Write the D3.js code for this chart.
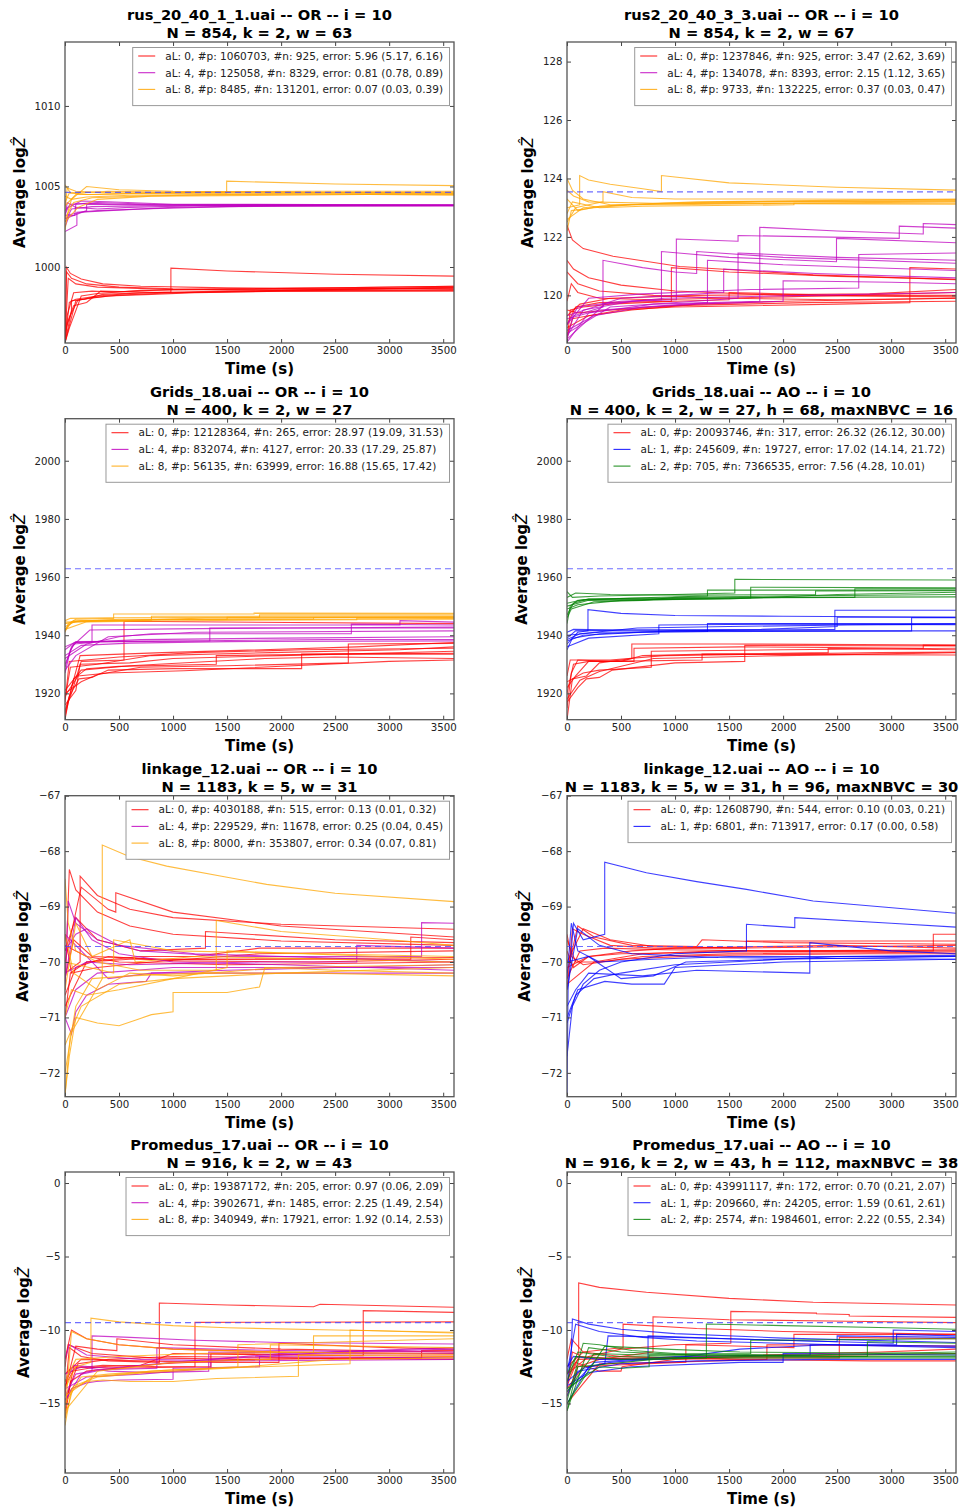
<!DOCTYPE html>
<html><head><meta charset="utf-8">
<script src="https://cdn.jsdelivr.net/npm/d3@7"></script>
<style>body{margin:0;background:#fff}svg{display:block}text{font-family:"DejaVu Sans",sans-serif}</style>
</head><body><svg id="c" width="961" height="1509"></svg>
<script>
// ---------- DATA (runs are flat [t, v, t, v, ...]) ----------
const xTicks = [0,500,1000,1500,2000,2500,3000,3500];
const xDomain = [0,3600];

const titles1 = ["rus_20_40_1_1.uai -- OR -- i = 10","rus2_20_40_3_3.uai -- OR -- i = 10","Grids_18.uai -- OR -- i = 10","Grids_18.uai -- AO -- i = 10","linkage_12.uai -- OR -- i = 10","linkage_12.uai -- AO -- i = 10","Promedus_17.uai -- OR -- i = 10","Promedus_17.uai -- AO -- i = 10"];
const titles2 = ["N = 854, k = 2, w = 63","N = 854, k = 2, w = 67","N = 400, k = 2, w = 27","N = 400, k = 2, w = 27, h = 68, maxNBVC = 16","N = 1183, k = 5, w = 31","N = 1183, k = 5, w = 31, h = 96, maxNBVC = 30","N = 916, k = 2, w = 43","N = 916, k = 2, w = 43, h = 112, maxNBVC = 38"];
const yDomains = [[995.28,1013.97],[118.37,128.67],[1910.95,2014.46],[1910.95,2014.46],[-72.43,-67],[-72.43,-67],[-19.73,0.75],[-19.73,0.75]];
const yTicks = [[1000,1005,1010],[120,122,124,126,128],[1920,1940,1960,1980,2000],[1920,1940,1960,1980,2000],[-72,-71,-70,-69,-68,-67],[-72,-71,-70,-69,-68,-67],[-15,-10,-5,0],[-15,-10,-5,0]];
const refValues = [1004.63,123.54,1962.86,1962.86,-69.72,-69.72,-9.5,-9.5];
const legendLabels = [
 ["aL: 0, #p: 1060703, #n: 925, error: 5.96 (5.17, 6.16)","aL: 4, #p: 125058, #n: 8329, error: 0.81 (0.78, 0.89)","aL: 8, #p: 8485, #n: 131201, error: 0.07 (0.03, 0.39)"],
 ["aL: 0, #p: 1237846, #n: 925, error: 3.47 (2.62, 3.69)","aL: 4, #p: 134078, #n: 8393, error: 2.15 (1.12, 3.65)","aL: 8, #p: 9733, #n: 132225, error: 0.37 (0.03, 0.47)"],
 ["aL: 0, #p: 12128364, #n: 265, error: 28.97 (19.09, 31.53)","aL: 4, #p: 832074, #n: 4127, error: 20.33 (17.29, 25.87)","aL: 8, #p: 56135, #n: 63999, error: 16.88 (15.65, 17.42)"],
 ["aL: 0, #p: 20093746, #n: 317, error: 26.32 (26.12, 30.00)","aL: 1, #p: 245609, #n: 19727, error: 17.02 (14.14, 21.72)","aL: 2, #p: 705, #n: 7366535, error: 7.56 (4.28, 10.01)"],
 ["aL: 0, #p: 4030188, #n: 515, error: 0.13 (0.01, 0.32)","aL: 4, #p: 229529, #n: 11678, error: 0.25 (0.04, 0.45)","aL: 8, #p: 8000, #n: 353807, error: 0.34 (0.07, 0.81)"],
 ["aL: 0, #p: 12608790, #n: 544, error: 0.10 (0.03, 0.21)","aL: 1, #p: 6801, #n: 713917, error: 0.17 (0.00, 0.58)"],
 ["aL: 0, #p: 19387172, #n: 205, error: 0.97 (0.06, 2.09)","aL: 4, #p: 3902671, #n: 1485, error: 2.25 (1.49, 2.54)","aL: 8, #p: 340949, #n: 17921, error: 1.92 (0.14, 2.53)"],
 ["aL: 0, #p: 43991117, #n: 172, error: 0.70 (0.21, 2.07)","aL: 1, #p: 209660, #n: 24205, error: 1.59 (0.61, 2.61)","aL: 2, #p: 2574, #n: 1984601, error: 2.22 (0.55, 2.34)"]
];
const colorOR = ["#ff0000","#bf00bf","#ffa500"];
const colorAO = ["#ff0000","#0000ff","#008000"];

// Panel 1: rus_20_40_1_1 OR
const rus1_aL0 = [
 [0,995.3,12,1000.0,50,999.6,150,999.25,350,998.95,700,998.8,1500,998.7,3600,998.65],
 [0,995.3,15,999.7,60,999.3,200,998.95,500,998.75,1000,998.65,2500,998.6,3600,998.7],
 [0,995.5,30,999.3,100,998.95,300,998.75,1000,998.6,2000,998.55,3600,998.7],
 [0,995.3,40,997.8,100,998.0,300,998.2,600,998.35,980,998.45,980,999.93,1500,999.75,2500,999.55,3600,999.43],
 [0,995.3,60,997.3,60,997.9,180,998.0,350,998.3,700,998.4,1500,998.5,3600,998.6],
 [0,995.5,20,996.5,80,997.6,200,997.8,330,998.5,1000,998.4,2000,998.55,3600,998.75],
 [0,995.3,100,997.9,250,998.1,500,998.25,1000,998.4,2000,998.5,3600,998.55],
 [0,996.0,50,997.0,120,997.95,400,998.2,800,998.3,1200,998.4,2000,998.5,3600,998.5],
 [0,995.3,40,996.2,150,998.2,300,998.35,700,998.55,1300,998.6,3600,998.8],
 [0,995.3,20,997.0,80,998.4,250,998.5,450,998.45,1000,998.6,2500,998.7,3600,998.8]
];
const rus1_aL4 = [
 [0,1003.0,20,1004.0,100,1003.7,300,1003.6,600,1003.7,1200,1003.8,3600,1003.85],
 [0,1002.5,40,1003.2,90,1003.2,100,1003.9,300,1004.0,800,1003.9,3600,1003.85],
 [0,1002.2,110,1002.6,110,1003.4,300,1003.5,700,1003.6,1500,1003.75,3600,1003.8],
 [0,1003.5,50,1003.9,200,1003.95,500,1003.9,1000,1003.85,3600,1003.85],
 [0,1003.2,150,1003.4,400,1003.5,1000,1003.7,2000,1003.8,3600,1003.8],
 [0,1002.8,60,1003.6,250,1003.75,800,1003.8,3600,1003.82],
 [0,1003.0,200,1003.5,200,1003.9,600,1003.85,3600,1003.8],
 [0,1003.3,30,1003.7,150,1004.1,400,1004.05,1000,1003.9,3600,1003.85]
];
const rus1_aL8 = [
 [0,1005.1,50,1004.6,200,1004.5,600,1004.55,1496,1004.6,1496,1005.33,2500,1005.15,3600,1005.05],
 [0,1002.3,30,1003.5,60,1004.2,200,1005.0,500,1004.8,1000,1004.7,2000,1004.65,3600,1004.6],
 [0,1003.0,80,1004.0,250,1004.3,700,1004.4,1500,1004.5,3600,1004.55],
 [0,1004.0,40,1004.6,150,1004.6,400,1004.7,1500,1004.6,3600,1004.55],
 [0,1002.8,120,1003.7,300,1004.2,800,1004.4,2800,1004.5,3600,1004.5],
 [0,1003.5,20,1004.9,100,1004.7,400,1004.6,1200,1004.6,3600,1004.65],
 [0,1004.4,60,1004.2,200,1004.35,600,1004.45,2000,1004.55,3600,1004.45],
 [0,1003.8,100,1004.5,300,1004.5,1000,1004.65,2300,1004.7,3600,1004.7]
];

// Panel 2: rus2_20_40_3_3 OR
const rus2_aL0 = [
 [0,122.4,50,121.9,150,121.6,426,121.34,1043,120.99,2278,120.7,3600,120.54],
 [0,121.2,60,120.9,200,120.6,500,120.35,1000,120.15,2000,120.0,3600,119.95],
 [0,120.8,100,120.4,300,120.15,800,120.0,1500,119.9,2500,119.85,3600,119.9],
 [0,118.4,30,119.5,150,119.6,400,119.7,1000,119.8,1500,119.85,1500,120.1,2500,120.0,3600,120.0],
 [0,118.6,50,119.2,200,119.3,600,119.5,1200,119.7,2000,119.8,3600,119.9],
 [0,119.0,80,119.6,300,119.75,966,119.8,966,120.95,1500,120.8,2500,120.65,3600,120.55],
 [0,119.5,100,119.4,400,119.5,1000,119.65,2200,119.75,3600,119.8],
 [0,118.9,200,119.3,500,119.5,1000,119.6,2500,119.7,3173,119.75,3173,120.95,3600,120.9],
 [0,119.8,40,120.4,100,120.1,300,119.9,800,119.85,2000,119.95,3600,120.1],
 [0,119.3,120,119.7,400,119.9,1200,120.0,2800,120.05,3600,120.2]
];
const rus2_aL4 = [
 [0,118.5,60,119.3,333,119.6,333,121.2,700,120.95,1000,120.8,1200,120.75,1200,121.5,2000,121.3,3600,121.1],
 [0,118.6,150,119.5,600,119.8,1012,119.85,1012,121.93,1583,121.85,1583,122.05,3075,121.95,3075,122.37,3600,122.3],
 [0,118.4,200,119.4,800,119.7,1784,119.8,1784,122.33,2500,122.2,3297,122.1,3297,122.46,3600,122.42],
 [0,119.0,100,119.6,500,119.8,874,119.85,874,121.5,1500,121.3,2494,121.15,2494,121.95,3600,121.8],
 [0,118.8,250,119.3,700,119.6,1300,119.75,1300,121.2,2000,121.05,3600,120.85],
 [0,119.2,300,119.5,1200,119.7,2000,119.8,2000,120.5,3000,120.45,3600,120.4],
 [0,118.7,400,119.6,1583,119.9,1583,121.45,2500,121.3,3600,121.2],
 [0,119.3,500,119.9,1000,120.0,1450,120.1,1450,120.9,2300,120.75,3600,120.6],
 [0,118.5,350,119.7,900,119.9,2200,120.0,3600,120.1],
 [0,119.0,200,119.9,700,120.05,1700,120.2,2700,120.25,2700,121.4,3600,121.45]
];
const rus2_aL8 = [
 [0,124.0,50,123.6,150,123.3,400,123.1,1000,123.1,2000,123.15,3600,123.2],
 [0,123.0,117,123.1,117,124.1,200,123.95,400,123.8,700,123.65,874,123.55,874,124.1,1500,123.85,2500,123.7,3600,123.6],
 [0,122.5,80,123.0,200,123.1,333,123.2,333,123.55,600,123.35,1000,123.3,2000,123.3,3600,123.28],
 [0,122.8,50,123.2,300,123.0,700,123.05,2100,123.1,2100,123.15,3600,123.15],
 [0,123.3,100,122.9,300,123.05,900,123.15,1500,123.2,3600,123.25],
 [0,122.6,150,123.0,500,123.1,1200,123.2,2500,123.25,3600,123.3],
 [0,123.6,60,123.4,200,123.2,800,123.15,3600,123.12],
 [0,122.2,40,122.9,250,123.0,600,123.1,1800,123.2,3600,123.22]
];

// Panel 3: Grids_18 OR
const gridsOR_aL0 = [
 [0,1911,30,1917,60,1920,150,1931,546,1931.5,546,1944.8,3600,1944.0],
 [0,1914,40,1919,130,1925,250,1925.5,400,1928,1000,1928.5,2190,1928.5,2190,1933.5,3600,1933.8],
 [0,1916,100,1921,140,1930,600,1930.5,1000,1932,2000,1933,3600,1934.5],
 [0,1920,150,1924,300,1926.5,700,1929,1500,1929.5,2622,1930.5,2622,1937,3600,1937.2],
 [0,1918,50,1929,300,1930,800,1933,1900,1934,3100,1935,3600,1936],
 [0,1912,80,1925,200,1928.5,500,1929.3,1400,1930,1400,1933,2500,1933.5,3600,1933.5],
 [0,1917,40,1931,500,1932.5,1200,1934,2200,1935,3600,1935.5],
 [0,1919,120,1926,400,1927,1100,1927.8,3000,1931,3600,1931.5],
 [0,1913,60,1922,140,1933,900,1934,2700,1936,3600,1937.5],
 [0,1921,150,1928,600,1929.5,1850,1932,2500,1932.5,3600,1932]
];
const gridsOR_aL4 = [
 [0,1927,50,1935,100,1937.5,500,1937.8,1340,1938,1340,1942.5,3600,1942.5],
 [0,1930,80,1937,250,1937.5,250,1943.5,3100,1943.5,3100,1945.0,3600,1944.5],
 [0,1932,200,1937,500,1939.5,800,1940.5,2650,1940.5,2650,1943.8,3600,1943.5],
 [0,1935,100,1937.8,1000,1938,2400,1938.5,3600,1938.5],
 [0,1929,60,1936,230,1941.8,1000,1942.2,2000,1942.5,3600,1942.8],
 [0,1933,150,1936.5,600,1937.3,1500,1937.8,3600,1938.0],
 [0,1928,100,1933,400,1939.5,1200,1941,3600,1941.5],
 [0,1936,90,1937.5,700,1938.5,2000,1939,3600,1939.5]
];
const gridsOR_aL8 = [
 [0,1941,30,1944,100,1945.5,450,1945.8,450,1947.3,1750,1947.3,1750,1947.6,3600,1947.5],
 [0,1942,60,1944.5,300,1944.8,800,1945.2,800,1946.5,3600,1946.5],
 [0,1944,150,1945.0,700,1945.3,1500,1945.5,1500,1946.2,3600,1946.2],
 [0,1943,100,1944.8,500,1945.5,2300,1945.6,2300,1946.0,3600,1946.0],
 [0,1945,50,1945.8,400,1946.0,1800,1946.2,1800,1947.0,3600,1947.0],
 [0,1942,200,1944.6,1000,1945.0,2700,1945.3,2700,1945.9,3600,1945.8],
 [0,1944.5,350,1944.9,1000,1945.4,3600,1945.5],
 [0,1941.5,40,1943.5,80,1945,700,1945.2,1300,1945.9,3600,1946.3]
];

// Panel 4: Grids_18 AO
const gridsAO_aL0 = [
 [0,1911,50,1925,180,1926,300,1930.5,600,1932,600,1937,1500,1937,3600,1936.6],
 [0,1917,100,1922,180,1925,300,1925.5,420,1928,1000,1930.5,1645,1931,1645,1936.5,3600,1936.3],
 [0,1920,60,1930,200,1931,500,1931,700,1933,1300,1933.5,2417,1934,2417,1935.5,3600,1935],
 [0,1924,150,1927,300,1928,780,1929,780,1934.5,2000,1935,3600,1935.5],
 [0,1915,40,1927,100,1931.5,400,1931,1250,1931.5,1250,1933.5,3600,1933.2],
 [0,1922,80,1926,200,1931,620,1931,620,1935.5,1600,1936,3297,1935.5,3297,1936.6,3600,1936.5],
 [0,1918,120,1924.5,300,1927.5,800,1932,2000,1933,3600,1934],
 [0,1926,30,1931.5,400,1931.5,900,1933,2900,1934,3600,1934.2]
];
const gridsAO_aL1 = [
 [0,1937,100,1941,194,1941.5,194,1948.8,500,1947.5,1000,1946.8,2000,1946.5,3600,1946.2],
 [0,1935,50,1939,300,1940.5,1000,1941.5,2479,1942,2479,1948.6,3600,1948.6],
 [0,1938,150,1940,700,1941,1300,1941.3,1300,1944,3600,1944],
 [0,1939,80,1941.5,600,1941.8,1800,1942,2500,1943,2500,1946.2,3600,1946.2],
 [0,1936,200,1939,850,1940.5,850,1943.5,2000,1943.8,3600,1943.6],
 [0,1940,300,1941,800,1941.2,3189,1941.5,3189,1946,3600,1946],
 [0,1938.5,120,1940.5,650,1942.5,1500,1943,2600,1943.5,3600,1943.8],
 [0,1941,60,1942,500,1941.8,1600,1941.5,3600,1941.5]
];
const gridsAO_aL2 = [
 [0,1955,50,1953,300,1953.5,1000,1954,1553,1954.5,1553,1959.2,3600,1959],
 [0,1944,30,1950,100,1952,600,1952.8,1300,1953.5,1300,1955.5,3600,1955.5],
 [0,1947,60,1951,200,1952.5,900,1952.8,2664,1953,2664,1956,3600,1956],
 [0,1949,100,1950.5,500,1952,1700,1952.8,1700,1956.5,3600,1956.3],
 [0,1951,150,1952.3,800,1952.5,2000,1953,3600,1953.2],
 [0,1953,80,1954.5,400,1954,1200,1953.8,2300,1954,2300,1955.2,3600,1955.3],
 [0,1946,40,1949,250,1951.5,700,1952,1000,1953,2000,1953.5,3600,1954],
 [0,1950,200,1952,1500,1952.5,2500,1954,3600,1954.8]
];

// Panel 5: linkage_12 OR
const linkOR_aL0 = [
 [0,-70.5,40,-68.33,100,-68.7,300,-69.1,600,-69.35,1000,-69.5,2000,-69.62,3600,-69.7],
 [0,-70.2,140,-70.0,140,-68.45,300,-68.8,600,-69.05,1000,-69.2,2000,-69.32,3600,-69.41],
 [0,-70.0,150,-68.65,400,-69.05,470,-69.1,470,-68.75,1000,-69.1,2000,-69.35,3600,-69.55],
 [0,-69.8,100,-69.2,300,-69.6,700,-69.8,1300,-69.75,1300,-69.45,2500,-69.6,3600,-69.65],
 [0,-71.0,50,-70.2,200,-70.0,600,-69.95,1500,-69.95,3600,-69.92],
 [0,-70.6,100,-70.1,400,-69.9,1000,-69.98,2300,-70.0,3600,-69.95],
 [0,-69.5,60,-70.2,300,-70.1,800,-70.0,1800,-69.85,3600,-69.8],
 [0,-70.8,200,-70.0,700,-69.9,1200,-69.9,1800,-69.75,3600,-69.75],
 [0,-69.7,200,-69.9,500,-70.0,1500,-70.05,3600,-70.0],
 [0,-70.3,80,-69.6,250,-69.9,900,-69.95,3200,-69.95,3200,-69.55,3600,-69.6]
];
const linkOR_aL4 = [
 [0,-70.5,30,-68.9,100,-69.3,300,-69.6,700,-69.8,1500,-69.9,3300,-69.9,3300,-69.29,3600,-69.3],
 [0,-71.0,60,-71.3,100,-70.9,200,-70.6,400,-70.4,750,-70.35,800,-70.2,1500,-70.15,2500,-70.1,3600,-70.05],
 [0,-70.3,100,-69.2,250,-69.6,500,-69.85,1000,-70.0,2000,-70.05,3600,-70.15],
 [0,-69.5,150,-69.8,400,-70.3,800,-70.2,2000,-70.2,3600,-70.2],
 [0,-70.2,200,-70.0,600,-70.05,1800,-70.0,2700,-70.0,2700,-69.7,3600,-69.75],
 [0,-71.0,100,-70.5,300,-70.2,1000,-70.1,3600,-70.1],
 [0,-69.8,100,-69.5,200,-69.4,500,-69.7,1200,-69.85,3600,-70.0]
];
const linkOR_aL8 = [
 [0,-72.4,50,-71.3,200,-70.8,345,-70.3,345,-67.89,600,-68.1,941,-68.27,1500,-68.47,1866,-68.6,2500,-68.76,3600,-68.91],
 [0,-72.4,40,-71.7,100,-71.0,300,-71.1,500,-71.15,650,-71.05,800,-70.95,1000,-70.9,1000,-70.55,1500,-70.55,1800,-70.45,1850,-70.1,2500,-70.15,3600,-70.2],
 [0,-68.5,30,-69.3,100,-69.8,300,-70.0,700,-70.15,1400,-70.15,1400,-69.25,2000,-69.45,3000,-69.6,3600,-69.7],
 [0,-71.0,60,-70.5,200,-70.6,500,-70.5,1000,-70.3,2000,-70.2,3600,-70.1],
 [0,-72.0,100,-70.8,250,-70.3,600,-70.25,1200,-70.2,2300,-70.2,3600,-70.25],
 [0,-70.5,100,-69.3,250,-69.9,600,-69.6,650,-70.0,1200,-69.9,2500,-69.95,3600,-70.0],
 [0,-71.5,150,-70.8,500,-70.4,1000,-70.3,1500,-70.1,1500,-69.8,3600,-69.95],
 [0,-69.5,80,-70.2,300,-70.5,600,-70.2,1000,-70.25,2000,-70.1,3600,-70.05],
 [0,-70.0,450,-70.2,450,-69.6,1000,-69.8,3600,-69.9]
];

// Panel 6: linkage_12 AO
const linkAO_aL0 = [
 [0,-70.5,50,-69.4,150,-69.5,400,-69.7,800,-69.75,1500,-69.75,3600,-69.7],
 [0,-70.2,100,-69.35,250,-69.55,600,-69.7,1200,-69.72,1250,-69.6,2000,-69.65,3600,-69.68],
 [0,-69.8,60,-70.1,200,-69.9,500,-69.85,1500,-69.82,3390,-69.8,3390,-69.5,3600,-69.5],
 [0,-70.0,150,-69.4,400,-69.6,800,-69.72,1660,-69.75,1660,-69.62,3600,-69.62],
 [0,-69.6,80,-70.0,300,-70.0,700,-69.9,1500,-69.85,3600,-69.82],
 [0,-70.3,120,-69.8,350,-69.75,900,-69.78,2000,-69.8,3600,-69.78],
 [0,-70.1,200,-69.9,600,-69.8,1000,-69.75,2500,-69.7,3600,-69.75],
 [0,-69.5,40,-69.9,150,-70.05,500,-69.95,1300,-69.88,2800,-69.85,3600,-69.85],
 [0,-70.4,250,-70.0,700,-69.85,1400,-69.8,3600,-69.8]
];
const linkAO_aL1 = [
 [0,-72.4,10,-70.5,60,-69.3,150,-69.6,349,-69.5,349,-68.2,735,-68.39,1200,-68.55,1661,-68.69,2278,-68.9,3600,-69.12],
 [0,-71.7,50,-70.8,150,-70.4,300,-70.15,500,-70.0,1000,-69.85,1661,-69.8,1661,-69.32,2108,-69.38,2108,-69.2,3000,-69.3,3600,-69.37],
 [0,-71.0,100,-70.5,350,-70.35,600,-70.4,900,-70.4,1000,-70.1,1500,-70.05,2000,-70.0,3600,-69.95],
 [0,-70.8,80,-70.5,200,-70.2,700,-70.25,1200,-70.15,2247,-70.2,2247,-69.65,3000,-69.8,3600,-69.85],
 [0,-70.3,40,-69.3,100,-69.8,300,-70.0,800,-69.95,1500,-69.9,3600,-69.9],
 [0,-71.1,80,-70.6,250,-70.3,500,-70.2,1000,-70.05,2500,-69.9,3600,-69.88],
 [0,-70.5,100,-69.4,300,-69.7,600,-69.85,1400,-69.92,3600,-69.95],
 [0,-70.0,200,-69.9,500,-70.3,800,-70.25,1100,-70.0,2000,-69.95,3600,-69.9]
];

// Panel 7: Promedus_17 OR
const promOR_aL0 = [
 [0,-14.5,40,-11.2,150,-11.8,400,-12.1,873,-12.2,873,-8.16,1500,-8.3,2300,-8.42,2360,-8.25,3600,-8.45],
 [0,-13.5,60,-12.8,300,-12.5,700,-12.4,1000,-11.6,2000,-11.7,2760,-11.75,2760,-8.68,3600,-8.8],
 [0,-15.5,80,-12.5,500,-12.6,1203,-12.5,1203,-9.48,3600,-9.45],
 [0,-12,60,-10.0,200,-10.6,500,-11.0,1000,-11.3,2000,-11.5,3600,-11.6],
 [0,-14,100,-11.1,300,-11.3,480,-11.4,480,-10.6,1000,-11.0,2000,-11.3,3600,-11.5],
 [0,-13,150,-12.0,700,-12.1,1400,-12.2,1980,-12.2,1980,-10.9,3000,-11.2,3600,-11.3],
 [0,-16,50,-13.5,200,-12.8,900,-12.3,1700,-12.0,3600,-11.8],
 [0,-14.8,120,-12.3,400,-12.0,1000,-11.8,2300,-11.9,3600,-12.0],
 [0,-12.5,30,-11.0,250,-11.6,800,-11.9,1600,-12.0,3300,-11.9,3300,-11.4,3600,-11.4],
 [0,-13.8,90,-12.6,350,-12.4,900,-12.5,1350,-12.5,1350,-11.6,2400,-11.7,3600,-11.7]
];
const promOR_aL4 = [
 [0,-14.5,100,-13.0,250,-12.8,250,-10.4,600,-10.5,1200,-10.7,2000,-10.85,3600,-10.95],
 [0,-15,60,-14,200,-13.6,290,-13.5,500,-13.4,1000,-13.35,1000,-12.6,1800,-12.5,1800,-11.8,3600,-11.9],
 [0,-13,150,-12.5,400,-12.8,800,-12.9,1330,-12.8,1330,-11.5,2500,-11.6,3600,-11.6],
 [0,-12,40,-11.0,200,-11.7,700,-12.0,1500,-12.1,3600,-12.0],
 [0,-14,200,-13.2,700,-13.0,1350,-12.6,1350,-12.0,2500,-11.5,3600,-11.3],
 [0,-13.5,80,-12.4,400,-12.6,1000,-12.2,2000,-11.6,3600,-11.2],
 [0,-14.8,150,-13.0,350,-12.7,850,-12.6,850,-11.2,2000,-11.4,3600,-11.5]
];
const promOR_aL8 = [
 [0,-14,100,-12.5,240,-12.2,240,-9.2,500,-9.45,1000,-9.7,1500,-9.85,2500,-10.0,3600,-10.15],
 [0,-16.5,60,-14,200,-13.5,350,-13.4,600,-13.5,1000,-13.5,1400,-13.3,2160,-13.15,2160,-11.7,3600,-11.8],
 [0,-15.8,60,-10.1,200,-10.6,500,-11.0,1000,-11.3,2000,-11.5,3600,-11.65],
 [0,-15,150,-13.2,400,-13.0,1000,-12.7,2638,-12.3,2638,-10.0,3600,-10.2],
 [0,-14.5,250,-13.2,800,-12.8,1600,-12.5,1600,-11.0,3600,-10.6],
 [0,-13.5,100,-12.0,500,-11.8,1200,-11.6,2300,-11.5,2300,-10.4,3600,-10.4],
 [0,-15.5,300,-12.8,1000,-12.2,1900,-12.0,1900,-11.0,3600,-11.2],
 [0,-16,80,-13.8,300,-13.2,750,-12.9,1500,-12.6,2500,-12.0,3600,-11.9]
];

// Panel 8: Promedus_17 AO
const promAO_aL0 = [
 [0,-14,50,-11.5,108,-11.7,108,-6.8,300,-7.1,735,-7.43,1500,-7.85,2278,-8.11,3600,-8.3],
 [0,-13,200,-11.8,500,-11.3,1000,-11.0,1516,-10.9,1516,-8.73,2309,-8.85,2309,-8.9,2612,-8.95,2612,-9.05,3600,-9.14],
 [0,-14.5,100,-12.5,300,-12.0,796,-11.5,796,-9.1,1500,-9.3,2600,-9.4,3600,-9.5],
 [0,-12.5,150,-11.5,519,-11.2,519,-9.6,1200,-9.9,2000,-10.1,3600,-10.3],
 [0,-13.5,80,-12.2,300,-12.8,500,-12.8,510,-12.5,1000,-12.0,1600,-11.9,2520,-11.9,2520,-10.5,3600,-10.6],
 [0,-12,40,-10.6,150,-11.5,500,-11.8,1500,-12.0,2800,-12.1,3600,-12.1],
 [0,-14,150,-12.5,400,-12.4,1100,-12.2,1100,-11.0,2100,-11.2,2100,-10.3,3600,-10.3],
 [0,-15,300,-12.3,900,-12.2,1850,-12.0,1850,-11.0,3600,-11.1],
 [0,-13,120,-11.8,600,-12.0,1700,-11.8,3600,-11.6],
 [0,-13.8,100,-12.0,700,-11.9,1300,-11.8,2900,-11.5,3600,-11.3]
];
const promAO_aL1 = [
 [0,-14,40,-11.5,50,-9.25,200,-9.6,500,-9.95,1000,-10.25,2000,-10.55,3600,-10.85],
 [0,-13,80,-9.6,300,-10.1,700,-10.5,1200,-10.75,2500,-11.0,3600,-11.1],
 [0,-15,200,-12.5,400,-12.2,750,-12.0,750,-10.4,1500,-10.6,3019,-10.9,3019,-10.0,3600,-10.1],
 [0,-13.5,150,-12.6,350,-12.3,380,-10.4,1000,-10.5,2000,-10.7,2500,-10.8,2500,-10.4,3600,-10.5],
 [0,-14.5,100,-12.8,500,-12.3,1200,-12.1,2400,-12.0,3600,-12.0],
 [0,-12.5,60,-11.8,300,-12.0,900,-12.0,1600,-11.3,2400,-11.0,3600,-11.2],
 [0,-13.8,200,-12.9,400,-12.7,600,-12.5,1600,-12.2,2000,-12.2,2000,-11.6,3600,-11.7],
 [0,-14.2,250,-12.2,1000,-11.8,2250,-11.7,2250,-11.0,3050,-11.0,3050,-10.3,3600,-10.4]
];
const promAO_aL2 = [
 [0,-15.5,100,-12.5,400,-12.3,800,-12.0,1290,-11.9,1290,-9.59,2000,-9.7,3000,-9.85,3600,-9.95],
 [0,-14.8,150,-10.9,300,-11.0,600,-11.4,1000,-11.6,2000,-11.7,3600,-11.7],
 [0,-15.5,200,-11.2,500,-11.5,1200,-11.7,2500,-11.8,3600,-11.8],
 [0,-14,300,-12.5,500,-12.6,760,-12.5,760,-11.7,2000,-11.8,2780,-11.8,2780,-10.8,3600,-10.9],
 [0,-13.5,100,-11.5,400,-11.8,1500,-11.9,3600,-11.9],
 [0,-14.2,250,-11.6,700,-11.7,1700,-11.6,1700,-10.7,3600,-10.6],
 [0,-15,350,-11.1,900,-11.3,1600,-11.5,3600,-11.6],
 [0,-13,80,-11.8,500,-12.0,1100,-11.9,2200,-11.7,3600,-11.5]
];

const panelRuns = [
 [rus1_aL0,rus1_aL4,rus1_aL8],
 [rus2_aL0,rus2_aL4,rus2_aL8],
 [gridsOR_aL0,gridsOR_aL4,gridsOR_aL8],
 [gridsAO_aL0,gridsAO_aL1,gridsAO_aL2],
 [linkOR_aL0,linkOR_aL4,linkOR_aL8],
 [linkAO_aL0,linkAO_aL1],
 [promOR_aL0,promOR_aL4,promOR_aL8],
 [promAO_aL0,promAO_aL1,promAO_aL2]
];
const panelColors = [colorOR,colorOR,colorOR,colorAO,colorOR,colorAO,colorOR,colorAO];

// ---------- LAYOUT ----------
const colLeft = [65,567], plotW = 389, plotH = 301;
const rowTop = [42,418.7,795.7,1172];
const yLabelOffset = [-40,-34,-40,-40,-37,-37,-36,-35];
const svg = d3.select("#c");

const toPairs = a => { const p=[]; for(let i=0;i<a.length;i+=2) p.push([a[i],a[i+1]]); return p; };

panelRuns.forEach((series,pi)=>{
  const col = pi%2, row = Math.floor(pi/2);
  const L = colLeft[col], T = rowTop[row];
  const x = d3.scaleLinear().domain(xDomain).range([0,plotW]);
  const y = d3.scaleLinear().domain(yDomains[pi]).range([plotH,0]);
  const g = svg.append("g").attr("transform",`translate(${L},${T})`);
  const cid = "clip"+pi;
  g.append("clipPath").attr("id",cid).append("rect").attr("width",plotW).attr("height",plotH);
  const plot = g.append("g").attr("clip-path",`url(#${cid})`);
  const line = d3.line().x(d=>x(d[0])).y(d=>y(d[1]));
  series.forEach((runs,si)=>{
    runs.forEach(r=>{
      plot.append("path").attr("d",line(toPairs(r))).attr("fill","none")
        .attr("stroke",panelColors[pi][si]).attr("stroke-width",1.1).attr("stroke-opacity",0.75);
    });
  });
  // reference dashed line
  plot.append("line").attr("x1",0).attr("x2",plotW).attr("y1",y(refValues[pi])).attr("y2",y(refValues[pi]))
    .attr("stroke","#4a4aff").attr("stroke-width",1.1).attr("stroke-dasharray","6,4").attr("stroke-opacity",0.8);

  // axes (ticks inward)
  const fmt = d3.format("d");
  const ax = d3.axisBottom(x).tickValues(xTicks).tickSize(-4).tickPadding(4).tickFormat(fmt);
  const axT = d3.axisTop(x).tickValues(xTicks).tickSize(-4).tickFormat("");
  const ay = d3.axisLeft(y).tickValues(yTicks[pi]).tickSize(-4).tickPadding(4.5).tickFormat(fmt);
  const ayR = d3.axisRight(y).tickValues(yTicks[pi]).tickSize(-4).tickFormat("");
  const styleAx = s => { s.selectAll(".domain").remove(); s.selectAll("line").attr("stroke","#444");
    s.selectAll("text").attr("fill","#222").style("font-size","10.2px").style("font-family","DejaVu Sans"); };
  g.append("g").attr("transform",`translate(0,${plotH})`).call(ax).call(styleAx);
  g.append("g").call(axT).call(styleAx);
  g.append("g").call(ay).call(styleAx);
  g.append("g").attr("transform",`translate(${plotW},0)`).call(ayR).call(styleAx);
  g.append("rect").attr("width",plotW).attr("height",plotH).attr("fill","none").attr("stroke","#555").attr("stroke-width",1.3);

  // titles
  const cx = plotW/2;
  g.append("text").attr("x",cx).attr("y",-22).attr("text-anchor","middle").style("font-weight","bold").style("font-size","14.7px").text(titles1[pi]);
  g.append("text").attr("x",cx).attr("y",-4).attr("text-anchor","middle").style("font-weight","bold").style("font-size","14.7px").text(titles2[pi]);
  // axis labels
  g.append("text").attr("x",cx).attr("y",plotH+31).attr("text-anchor","middle").style("font-weight","bold").style("font-size","15px").text("Time (s)");
  const yl = g.append("text").attr("transform",`translate(${yLabelOffset[pi]},${plotH/2}) rotate(-90)`).attr("text-anchor","middle")
    .style("font-weight","bold").style("font-size","15px");
  yl.append("tspan").text("Average log");
  yl.append("tspan").style("font-style","italic").style("font-weight","normal").text("Ẑ");

  // legend
  const labs = legendLabels[pi];
  const lg = g.append("g");
  const box = lg.append("rect").attr("fill","#fff").attr("stroke","#999").attr("stroke-width",1);
  let maxW = 0;
  labs.forEach((t,i)=>{
    const yy = 14 + i*16.7;
    lg.append("line").attr("x1",6).attr("x2",23).attr("y1",yy).attr("y2",yy).attr("stroke",panelColors[pi][i]).attr("stroke-width",1.1).attr("stroke-opacity",0.85);
    const tx = lg.append("text").attr("x",33).attr("y",yy+3.8).style("font-size","10.5px").attr("fill","#222").text(t);
    maxW = Math.max(maxW, tx.node().getComputedTextLength());
  });
  const bw = 33+maxW+6, bh = 6+labs.length*16.7+2;
  box.attr("x",0.5).attr("y",5.5).attr("width",bw).attr("height",bh);
  lg.attr("transform",`translate(${plotW-5-bw},0)`);
});
</script></body></html>
